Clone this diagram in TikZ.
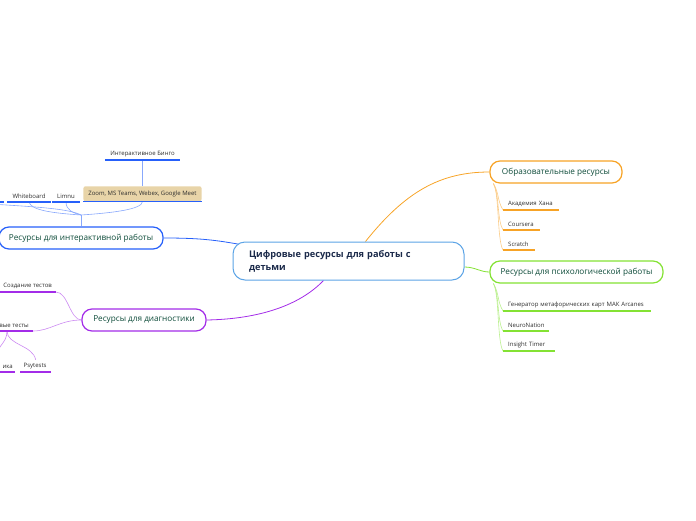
\documentclass[tikz,border=0pt]{standalone}
\usepackage{fontspec}
\setmainfont{Open Sans}
\usetikzlibrary{backgrounds}
\definecolor{orng}{RGB}{247,163,38}
\definecolor{lime}{RGB}{132,226,52}
\definecolor{blu}{RGB}{38,96,250}
\definecolor{purp}{RGB}{163,44,232}
\definecolor{rootline}{RGB}{92,164,230}
\definecolor{roottext}{RGB}{27,42,74}
\definecolor{topictext}{RGB}{14,76,58}
\definecolor{leaftext}{RGB}{45,45,45}
\definecolor{tan}{RGB}{232,212,168}

\begin{document}
\begin{tikzpicture}[x=1pt,y=-1pt,
  root/.style={draw=rootline,line width=1pt,fill=white,rounded corners=12pt,minimum width=231pt,minimum height=38pt,text width=199pt,align=left,font=\fontsize{9.2}{13}\selectfont\bfseries,text=roottext},
  topic/.style={draw=#1,line width=1.2pt,fill=white,rounded corners=10pt,minimum height=22pt,font=\fontsize{8.2}{10}\selectfont,text=topictext},
  leaf/.style={font=\fontsize{6}{7}\selectfont,text=leaftext,inner xsep=5pt,inner ysep=3pt,align=left,append after command={(\tikzlastnode.south west) edge[draw=#1,line width=1.3pt] (\tikzlastnode.south east)}},
  link/.style={draw=#1,line width=0.8pt},
  twig/.style={draw=#1!55,line width=0.6pt}]
\useasboundingbox (0,0) rectangle (696,520);

\node[root] (root) at (348.5,261) {Цифровые ресурсы для работы с\\детьми};

\node[topic=orng,minimum width=132pt] (edu) at (556,172) {Образовательные ресурсы};
\node[topic=lime,minimum width=173pt] (psy) at (576.5,272) {Ресурсы для психологической работы};
\node[topic=blu,minimum width=164pt] (inter) at (81,238) {Ресурсы для интерактивной работы};
\node[topic=purp,minimum width=124pt] (diag) at (144,320) {Ресурсы для диагностики};

\node[leaf=orng,anchor=south west,text width=46pt] (khan) at (503,210) {Академия Хана};
\node[leaf=orng,anchor=south west,text width=27pt] (coursera) at (503,230) {Coursera};
\node[leaf=orng,anchor=south west,text width=22pt] (scratch) at (503,250) {Scratch};

\node[leaf=lime,anchor=south west,text width=138pt] (arcanes) at (503,311) {Генератор метафорических карт МАК Arcanes};
\node[leaf=lime,anchor=south west,text width=36pt] (neuro) at (503,331) {NeuroNation};
\node[leaf=lime,anchor=south west,text width=42pt] (insight) at (503,351) {Insight Timer};

\node[leaf=blu,anchor=south,minimum width=75pt] (bingo) at (142.5,160) {Интерактивное Бинго};
\node[leaf=blu,anchor=south,minimum width=117pt,minimum height=15pt,fill=tan,rounded corners=2pt] (zoom) at (142.5,201.5) {Zoom, MS Teams, Webex, Google Meet};
\node[leaf=blu,anchor=south,minimum width=26pt] (limnu) at (66,202) {Limnu};
\node[leaf=blu,anchor=south,minimum width=42pt] (whiteboard) at (29,202) {Whiteboard};
\draw[blu,line width=1.3pt] (-10,202) -- (4,202);
\coordinate (cutl) at (-10,204);
\coordinate (intj) at (81,215);

\node[leaf=purp,anchor=south east,inner xsep=4pt] (tests) at (56,292) {Создание тестов};
\node[leaf=purp,anchor=south east,inner xsep=4pt] (vt) at (33,331) {вые тесты};
\node[leaf=purp,anchor=south east,inner xsep=2pt] (ika) at (15,372) {ика};
\node[leaf=purp,anchor=south west,inner xsep=3.5pt,text width=24pt] (psyt) at (20,372) {Psytests};
\coordinate (vtj) at (7,331);

\begin{scope}[on background layer]
\draw[link=orng] ([xshift=17pt]root.north) .. controls (405,192) and (440,172) .. (edu.west);
\draw[link=lime] ([yshift=-6pt]root.east) .. controls (475,267) and (480,272) .. (psy.west);
\draw[link=blu] (inter.east) .. controls (200,238) and (215,240) .. ([xshift=8pt,yshift=-3pt]root.north west);
\draw[link=purp] ([xshift=-25pt]root.south) .. controls (300,305) and (260,319) .. (diag.east);

\foreach \n in {khan,coursera,scratch}
  \draw[twig=orng] ([xshift=4pt]edu.south west) .. controls +(6,10) and +(-6,-10) .. (\n.south west);
\foreach \n in {arcanes,neuro,insight}
  \draw[twig=lime] ([xshift=4pt]psy.south west) .. controls +(6,10) and +(-6,-10) .. (\n.south west);

\draw[twig=blu] (bingo.south) -- (zoom.north);
\draw[twig=blu] (whiteboard.south) .. controls +(2,8) and +(-30,-2) .. (intj);
\draw[twig=blu] (limnu.south) .. controls +(0,8) and +(-8,-2) .. (intj);
\draw[twig=blu] (zoom.south) .. controls +(0,8) and +(30,-2) .. (intj);
\draw[twig=blu] (cutl) .. controls (40,207) and (70,209) .. (intj);
\draw[twig=blu] (intj) -- (inter.north);

\draw[twig=purp] (diag.west) .. controls (70,320) and (68,292) .. (tests.south east);
\draw[twig=purp] (diag.west) .. controls (60,320) and (50,331) .. (vt.south east);
\draw[twig=purp] (vtj) .. controls (7,345) and (33,345) .. (psyt.north);
\draw[twig=purp] (vtj) .. controls (7,345) and (-5,345) .. ([xshift=-12pt]ika.north);
\end{scope}
\end{tikzpicture}
\end{document}
